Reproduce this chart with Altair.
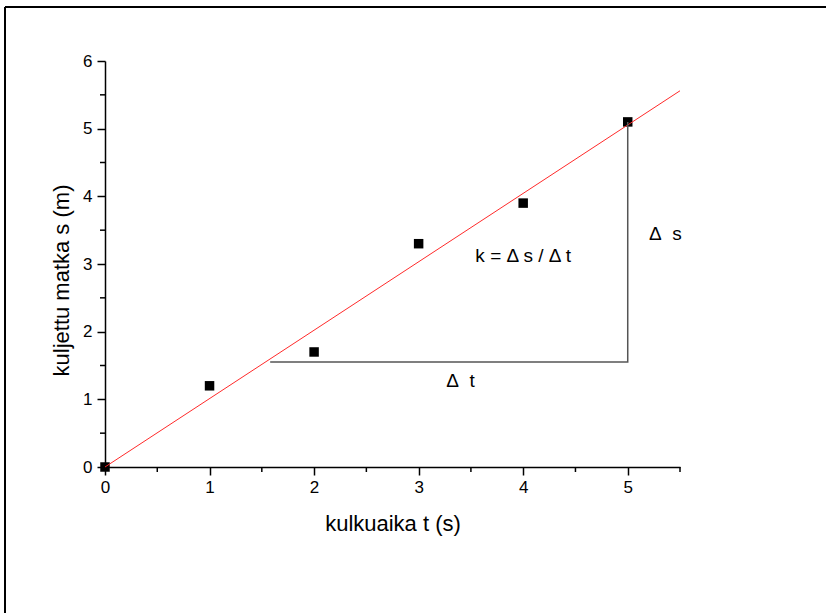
import altair as alt
import pandas as pd

# measured data
t_values = [0, 1, 2, 3, 4, 5]
s_values = [0, 1.2, 1.7, 3.3, 3.9, 5.1]

# fitted line (through origin)
fit_t = [0, 5.5]
fit_s = [0, 5.56]

# triangle helper lines
tri_t = [1.58, 5, 5]
tri_s = [1.55, 1.55, 5.1]

x_ticks = [0, 1, 2, 3, 4, 5]
y_ticks = [0, 1, 2, 3, 4, 5, 6]
x_minor = [0.5, 1.5, 2.5, 3.5, 4.5, 5.5]
y_minor = [0.5, 1.5, 2.5, 3.5, 4.5, 5.5]

W, H = 575, 406
FONT = "Liberation Sans"
NB = "\u00a0"

xs = alt.Scale(domain=[0, 5.5], nice=False, zero=False)
ys = alt.Scale(domain=[0, 6], nice=False, zero=False)

common = dict(labelFont=FONT, labelFontSize=17, labelColor="black",
              titleFont=FONT, titleFontSize=22, titleFontWeight="normal",
              titleColor="black", domainColor="black", domainWidth=1.5,
              tickColor="black", tickWidth=1.5, tickSize=8, grid=False,
              labelFlush=False, labelOverlap=False, format="d")

xaxis = alt.Axis(values=x_ticks, title="kulkuaika t (s)", labelPadding=4,
                 titleY=63, titleBaseline="alphabetic", **common)
yaxis = alt.Axis(values=y_ticks, title="kuljettu matka s (m)", labelPadding=5,
                 titleX=-37, titleY=219, titleBaseline="alphabetic",
                 titleAlign="center", titleAngle=270, **common)

df_pts = pd.DataFrame({"t": t_values, "s": s_values})
df_fit = pd.DataFrame({"t": fit_t, "s": fit_s})
df_tri = pd.DataFrame({"t": tri_t, "s": tri_s, "o": [0, 1, 2]})
df_xm = pd.DataFrame({"t": x_minor})
df_ym = pd.DataFrame({"s": y_minor})
one = pd.DataFrame({"a": [0]})

X = alt.X("t:Q", scale=xs, axis=xaxis)
Y = alt.Y("s:Q", scale=ys, axis=yaxis)
Xp = alt.X("t:Q", scale=xs)
Yp = alt.Y("s:Q", scale=ys)

pts = alt.Chart(df_pts).mark_square(size=90, color="black", opacity=1).encode(x=X, y=Y)

fit = alt.Chart(df_fit).mark_line(color="#ff2a2a", strokeWidth=1).encode(x=Xp, y=Yp)

tri = alt.Chart(df_tri).mark_line(color="#555555", strokeWidth=1.5).encode(
    x=Xp, y=Yp, order="o:Q")

xminor = alt.Chart(df_xm).mark_rule(color="black", strokeWidth=1.5).encode(
    x=Xp, y=alt.value(H), y2=alt.value(H + 5))
yminor = alt.Chart(df_ym).mark_rule(color="black", strokeWidth=1.5).encode(
    y=Yp, x=alt.value(0), x2=alt.value(-5))

def label(txt, tx, sy):
    return alt.Chart(one).mark_text(
        text=txt, font=FONT, fontSize=19, color="black",
        align="center", baseline="middle"
    ).encode(x=alt.datum(tx, scale=xs), y=alt.datum(sy, scale=ys))

lab_k = label("k = Δ s / Δ t", 4.0, 3.12)
lab_ds = label("Δ" + NB + NB + "s", 5.36, 3.44)
lab_dt = label("Δ" + NB + NB + "t", 3.40, 1.27)

frame_top = alt.Chart(one).mark_rule(color="black", strokeWidth=2).encode(
    x=alt.value(-100), x2=alt.value(W + 200), y=alt.value(-54))
frame_left = alt.Chart(one).mark_rule(color="black", strokeWidth=2).encode(
    x=alt.value(-100), y=alt.value(-54), y2=alt.value(H + 200))

chart = alt.layer(
    pts, fit, tri, xminor, yminor, lab_k, lab_ds, lab_dt, frame_top, frame_left
).properties(
    width=W, height=H,
    padding={"left": 105, "top": 61, "right": 146, "bottom": 146},
    autosize=alt.AutoSizeParams(type="none"),
    background="white",
).configure_view(stroke=None)

chart.save("out.html", embed_options={"renderer": "svg", "actions": False})
